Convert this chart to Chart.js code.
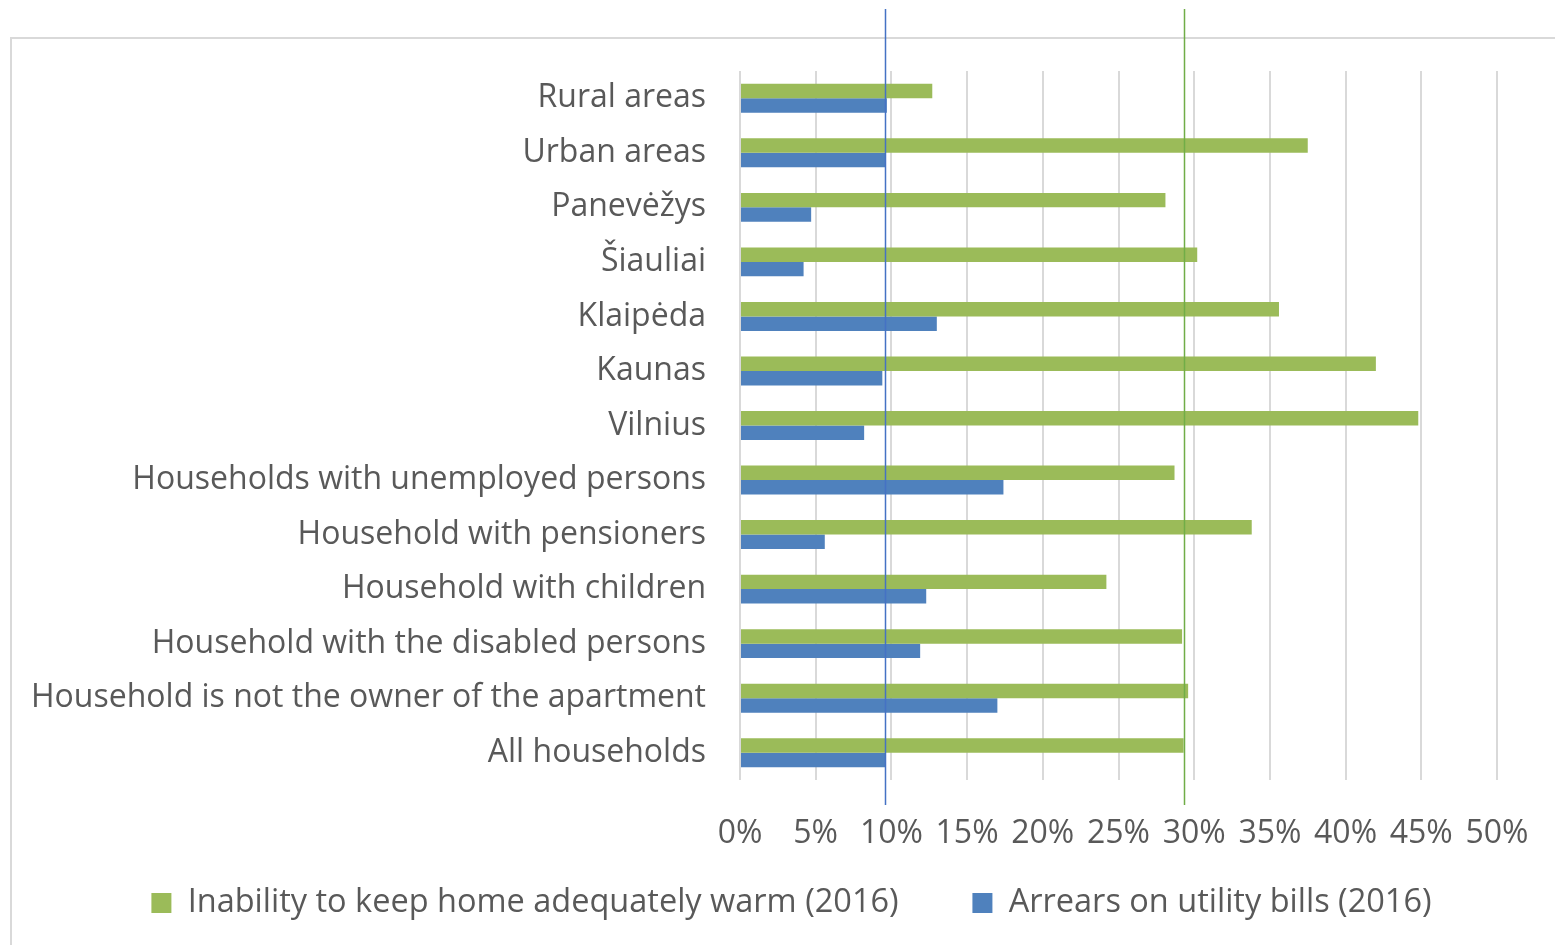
<!DOCTYPE html>
<html>
<head>
<meta charset="utf-8">
<script src="https://cdn.jsdelivr.net/npm/chart.js@4/dist/chart.umd.min.js"></script>
<style>
  html, body { margin: 0; padding: 0; background: #fff; overflow: hidden; }
  #wrap { width: 1555px; height: 945px; }
</style>
</head>
<body>
<div id="wrap"><canvas id="energyPoverty"></canvas></div>
<script>
// Groups shown on the vertical axis, top to bottom
var groups = [
    'Rural areas',
    'Urban areas',
    'Panevėžys',
    'Šiauliai',
    'Klaipėda',
    'Kaunas',
    'Vilnius',
    'Households with unemployed persons',
    'Household with pensioners',
    'Household with children',
    'Household with the disabled persons',
    'Household is not the owner of the apartment',
    'All households'
];

// Shares of households, %
var warmth = [12.7, 37.5, 28.1, 30.2, 35.6, 42.0, 44.8, 28.7, 33.8, 24.2, 29.2, 29.6, 29.3];
var arrears = [9.7, 9.6, 4.7, 4.2, 13.0, 9.4, 8.2, 17.4, 5.6, 12.3, 11.9, 17.0, 9.6];

var xTicks = [0, 5, 10, 15, 20, 25, 30, 35, 40, 45, 50];

var fontFamily = '"Open Sans", "Noto Sans", sans-serif';
var fontSize = 32;
var legendFontSize = 32.5;
var textColor = '#595959';

// Reference lines at the "All households" level for both indicators
var allIdx = groups.indexOf('All households');
var refLines = {
    id: 'refLines',
    afterDatasetsDraw: function (chart) {
        var ctx = chart.ctx;
        var x = chart.scales.x;
        var lines = [
            { value: arrears[allIdx], color: '#4472c4' },
            { value: warmth[allIdx], color: '#70ad47' }
        ];
        ctx.save();
        ctx.lineWidth = 1.5;
        lines.forEach(function (l) {
            var px = Math.round(x.getPixelForValue(l.value)) + 0.5;
            ctx.strokeStyle = l.color;
            ctx.beginPath();
            ctx.moveTo(px, 9);
            ctx.lineTo(px, chart.chartArea.bottom + 25);
            ctx.stroke();
        });
        ctx.restore();
    }
};

// Light frame around the plot
var frame = {
    id: 'frame',
    beforeDraw: function (chart) {
        var ctx = chart.ctx;
        ctx.save();
        ctx.strokeStyle = '#d9d9d9';
        ctx.lineWidth = 2;
        ctx.beginPath();
        ctx.moveTo(11, chart.height + 5);
        ctx.lineTo(11, 38);
        ctx.lineTo(chart.width + 5, 38);
        ctx.stroke();
        ctx.restore();
    }
};

var ctx = document.getElementById('energyPoverty').getContext('2d');
var chart = new Chart(ctx, {
    type: 'bar',
    data: {
        labels: groups,
        datasets: [{
            label: 'Inability to keep home adequately warm (2016)',
            data: warmth,
            backgroundColor: '#9bbb59',
            borderWidth: 0
        }, {
            label: 'Arrears on utility bills (2016)',
            data: arrears,
            backgroundColor: '#4f81bd',
            borderWidth: 0
        }]
    },
    options: {
        indexAxis: 'y',
        responsive: true,
        maintainAspectRatio: false,
        animation: false,
        categoryPercentage: 0.53,
        barPercentage: 1,
        layout: {
            padding: { top: 71, left: 28, right: 0, bottom: 15.75 }
        },
        scales: {
            x: {
                min: 0,
                max: 50,
                afterBuildTicks: function (axis) {
                    axis.ticks = xTicks.map(function (v) { return { value: v }; });
                },
                afterFit: function (axis) {
                    axis.height = 66.75;
                    axis.paddingLeft = 0;
                    axis.paddingRight = 58; // room right of the 50% gridline
                },
                grid: { color: '#d9d9d9', lineWidth: 2, drawTicks: false },
                border: { display: false },
                ticks: {
                    padding: 35,
                    color: textColor,
                    font: { family: fontFamily, size: fontSize },
                    maxRotation: 0,
                    callback: function (v) { return v + '%'; }
                }
            },
            y: {
                afterFit: function (axis) { axis.width = 712; },
                grid: { display: false },
                border: { display: false },
                ticks: {
                    padding: 26,
                    color: textColor,
                    font: { family: fontFamily, size: fontSize }
                }
            }
        },
        plugins: {
            legend: {
                position: 'bottom',
                labels: {
                    color: textColor,
                    font: { family: fontFamily, size: legendFontSize },
                    boxWidth: 20,
                    boxHeight: 20,
                    padding: 40,
                    // wider gap between the two entries without extra vertical padding
                    generateLabels: function (chart) {
                        var items = Chart.defaults.plugins.legend.labels.generateLabels(chart);
                        items[0].text += '    ';
                        return items;
                    }
                }
            },
            tooltip: { enabled: false }
        }
    },
    plugins: [frame, refLines]
});
</script>
</body>
</html>
